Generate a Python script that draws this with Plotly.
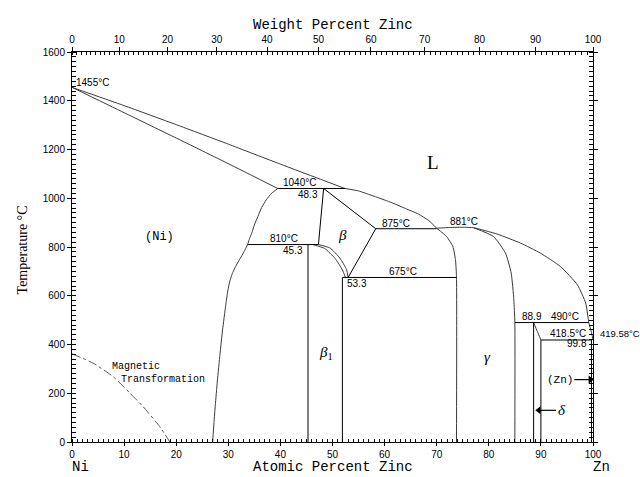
import plotly.graph_objects as go

# ---------------- data (atomic % Zn, temperature in °C) ----------------
liq1_x = [0, 10, 20, 30, 40, 52.4]
liq1_y = [1455, 1380, 1302, 1222, 1140, 1040]
sol1_x = [0, 10, 20, 30, 39.5]
sol1_y = [1455, 1351, 1247, 1142, 1040]
ni_solvus_x = [39.5, 38.3, 37.3, 36.4, 35.7, 35.0, 34.5, 34.0, 33.7, 33.0, 32.2, 31.4,
               30.75, 30.3, 29.9, 29.5, 28.9, 28.4, 27.9, 27.5, 27.25, 27.0]
ni_solvus_y = [1040, 1020, 994, 962, 926, 890, 857, 830, 810, 780, 750, 720,
               690, 660, 620, 560, 460, 360, 250, 150, 80, 0]
liq2_x = [52.4, 55, 58, 61, 64, 66.5, 68.5, 70]
liq2_y = [1040, 1030, 1008, 985, 958, 935, 908, 877]
liq3_x = [70, 72.5, 75.3, 77.1, 81.6, 86.1, 89.9, 93.75, 97.0, 98.6, 99.2, 99.7, 100]
liq3_y = [877, 880, 881, 879, 853, 816, 775, 720, 645, 570, 490, 450, 419.58]
beta_arcA_x = [47.3, 49.5, 51.4, 52.7, 53.0]
beta_arcA_y = [810, 796, 755, 707, 675]
beta_arcB_x = [46.2, 48.5, 50.5, 51.9, 52.5]
beta_arcB_y = [810, 794, 753, 706, 675]
gamma_left_x = [70, 71.9, 73.1, 73.6, 73.8, 73.8]
gamma_left_y = [877, 843, 802, 748, 675, 0]
gamma_right_x = [77.1, 80.9, 83.2, 84.3, 84.8, 85.0, 85.0]
gamma_right_y = [879, 843, 775, 693, 584, 490, 0]
delta_x = [88.6, 89.3, 90.0]
delta_y = [490, 454, 418.5]
magnetic_x = [0, 4.0, 7.85, 11.1, 13.6, 16.8, 18.8]
magnetic_y = [362, 324, 269, 201, 146, 64, 0]

# straight segments: (x0, y0, x1, y1)
segments = [
    (39.5, 1040, 52.4, 1040),   # 1040 peritectic
    (48.3, 1040, 47.3, 810),    # beta left
    (48.3, 1040, 58.3, 875),    # beta solidus
    (33.7, 810, 47.3, 810),     # 810 line
    (58.3, 875, 70.0, 875),     # 875 peritectic
    (53.0, 675, 58.3, 875),     # beta right
    (51.9, 675, 73.8, 675),     # 675 line
    (45.3, 810, 45.3, 0),       # beta1 left
    (51.9, 675, 51.9, 0),       # beta1 right
    (85.0, 490, 99.2, 490),     # 490 line
    (88.6, 490, 88.6, 0),       # delta left
    (90.0, 418.5, 90.0, 0),     # delta right
    (90.0, 418.5, 99.7, 418.5), # 418.5 eutectic
    (99.7, 418.5, 99.7, 0),     # (Zn) solvus
]

# pointer arrows: (tail x, head x, T)
arrows = [(96.4, 99.5, 256), (92.9, 89.6, 130)]

x_ticks = list(range(0, 101, 10))
y_ticks = list(range(0, 1601, 200))
wt_ticks = list(range(0, 101, 10))
wt_minor = list(range(0, 101, 1))
M_ZN, M_NI = 65.38, 58.69
X_RANGE = [0, 100]
Y_RANGE = [0, 1600]


def wt_to_at(w):
    a = w / M_ZN
    b = (100 - w) / M_NI
    return 100 * a / (a + b)


# text labels: (text, at%, T, xanchor, size, family, angle)
SANS = "Liberation Sans"
MONO = "Liberation Mono"
SERIF = "Liberation Serif"
labels = [
    ("1455°C", 0.3, 1475, "left", 10, SANS, 0),
    ("1040°C", 43.75, 1063, "center", 10, SANS, 0),
    ("48.3", 47.6, 1015, "right", 10, SANS, 0),
    ("810°C", 40.7, 833, "center", 10, SANS, 0),
    ("45.3", 44.7, 785, "right", 10, SANS, 0),
    ("875°C", 62.2, 898, "center", 10, SANS, 0),
    ("675°C", 63.5, 700, "center", 10, SANS, 0),
    ("53.3", 52.4, 652, "left", 10, SANS, 0),
    ("881°C", 75.3, 905, "center", 10, SANS, 0),
    ("88.9", 88.3, 513, "center", 10, SANS, 0),
    ("490°C", 94.7, 513, "center", 10, SANS, 0),
    ("418.5°C", 95.2, 447, "center", 10, SANS, 0),
    ("99.8", 99.3, 406, "right", 10, SANS, 0),
    ("419.58°C", 100.9, 447, "left", 9.5, SANS, 0),
    ("(Zn)", 93.6, 256, "center", 11, MONO, 0),
    ("<i>δ</i>", 94.0, 130, "center", 15, SERIF, 0),
    ("<i>γ</i>", 79.7, 350, "center", 15, SERIF, 0),
    ("<i>β</i><sub>1</sub>", 48.7, 365, "center", 15, SERIF, 0),
    ("<i>β</i>", 52.0, 850, "center", 15, SERIF, 0),
    ("(Ni)", 16.8, 842, "center", 12, MONO, 0),
    ("L", 69.3, 1146, "center", 19, SERIF, 0),
    ("Magnetic", 7.2, 309, "left", 10, MONO, 0),
    ("Transformation", 9.1, 258, "left", 10, MONO, 0),
    ("Ni", 1.6, -103, "center", 14, MONO, 0),
    ("Zn", 101.6, -103, "center", 14, MONO, 0),
    ("Atomic Percent Zinc", 50, -104, "center", 14, MONO, 0),
    ("Weight Percent Zinc", 50, 1712, "center", 14, MONO, 0),
    ("Temperature °C", -9.6, 790, "center", 14, SERIF, -90),
]

fig = go.Figure()

CURVE = "#3a3a3a"


def add_line(xs, ys, color="black", dash="solid", width=1, shape="linear"):
    fig.add_trace(go.Scatter(x=xs, y=ys, mode="lines",
                             line=dict(color=color, width=width, dash=dash, shape=shape, smoothing=0.5),
                             hoverinfo="skip", showlegend=False, cliponaxis=False))


for xs, ys in [(liq1_x, liq1_y), (sol1_x, sol1_y), (ni_solvus_x, ni_solvus_y),
               (liq2_x, liq2_y), (liq3_x, liq3_y), (beta_arcA_x, beta_arcA_y),
               (beta_arcB_x, beta_arcB_y), (gamma_left_x, gamma_left_y),
               (gamma_right_x, gamma_right_y), (delta_x, delta_y)]:
    add_line(xs, ys, color=CURVE, shape="spline")

for x0, y0, x1, y1 in segments:
    add_line([x0, x1], [y0, y1])

add_line(magnetic_x, magnetic_y, color="#555555", dash="dashdot", shape="spline")

for tail, head, t in arrows:
    add_line([tail, head], [t, t], width=1.2)
    fig.add_trace(go.Scatter(x=[head], y=[t], mode="markers",
                             marker=dict(symbol="triangle-right" if head > tail else "triangle-left",
                                         size=7, color="black"),
                             hoverinfo="skip", showlegend=False, cliponaxis=False))

# invisible trace to anchor the top (weight %) axis
fig.add_trace(go.Scatter(x=X_RANGE, y=[0, 0], xaxis="x2", mode="markers",
                         marker=dict(opacity=0), hoverinfo="skip", showlegend=False))

annotations = []
for text, x, y, anchor, size, fam, ang in labels:
    annotations.append(dict(text=text,
                            x=(x - X_RANGE[0]) / (X_RANGE[1] - X_RANGE[0]),
                            y=(y - Y_RANGE[0]) / (Y_RANGE[1] - Y_RANGE[0]),
                            xref="paper", yref="paper", xanchor=anchor,
                            yanchor="middle", showarrow=False, textangle=ang,
                            font=dict(family=fam, size=size, color="black")))

tickfont = dict(family=SANS, size=10, color="black")

fig.update_layout(
    width=640, height=477,
    margin=dict(l=72, r=47, t=52, b=35),
    paper_bgcolor="white", plot_bgcolor="white",
    showlegend=False,
    annotations=annotations,
    xaxis=dict(range=X_RANGE, tickvals=x_ticks, ticks="outside", ticklen=3,
               tickcolor="black", showline=True, linecolor="black", linewidth=1,
               showgrid=False, zeroline=False, tickfont=tickfont,
               minor=dict(dtick=1, ticks="inside", ticklen=3, tickcolor="black")),
    xaxis2=dict(range=X_RANGE, overlaying="x", side="top",
                tickvals=[wt_to_at(w) for w in wt_ticks],
                ticktext=[str(w) for w in wt_ticks],
                ticks="outside", ticklen=4, tickcolor="black",
                showline=True, linecolor="black", linewidth=1,
                showgrid=False, zeroline=False, tickfont=tickfont,
                minor=dict(tickvals=[wt_to_at(w) for w in wt_minor], ticks="inside",
                           ticklen=3, tickcolor="black")),
    yaxis=dict(range=Y_RANGE, tickvals=y_ticks, ticks="outside", ticklen=4,
               tickcolor="black", showline=True, linecolor="black", linewidth=1,
               mirror="allticks", showgrid=False, zeroline=False, tickfont=tickfont,
               minor=dict(dtick=20, ticks="inside", ticklen=3, tickcolor="black")),
)

fig.write_html("out.html")
